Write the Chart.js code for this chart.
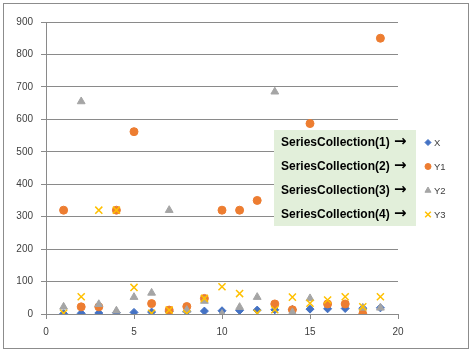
<!DOCTYPE html>
<html>
<head>
<meta charset="utf-8">
<script src="https://cdn.jsdelivr.net/npm/chart.js@4/dist/chart.umd.min.js"></script>
<style>
  html, body { margin: 0; padding: 0; background: #fff; }
  #wrap { position: relative; width: 473px; height: 353px; }
</style>
</head>
<body>
<div id="wrap"><canvas id="chart" width="473" height="353"></canvas></div>
<script>
// values
const xValues = [1, 2, 3, 4, 5, 6, 7, 8, 9, 10, 11, 12, 13, 14, 15, 16, 17, 18, 19];
const seriesX = [1, 2, 3, 4, 5, 6, 7, 8, 9, 10, 11, 12, 13, 14, 15, 16, 17, 18, 19];
const seriesY1 = [320, 22, 22, 320, 562, 32, 12, 23, 48, 320, 320, 350, 31, 13, 587, 31, 31, 0, 850];
const seriesY2 = [22, 655, 30, 10, 52, 65, 320, 12, 40, 0, 21, 52, 685, 5, 48, null, null, 19, 19];
const seriesY3 = [2, 53, 320, 320, 82, 2, 12, 1, 48, 84, 63, 2, 13, 52, 33, 43, 53, 22, 53];
const seriesNames = ['X', 'Y1', 'Y2', 'Y3'];
const boxLabels = ['SeriesCollection(1)', 'SeriesCollection(2)', 'SeriesCollection(3)', 'SeriesCollection(4)'];
const xTicks = [0, 5, 10, 15, 20];
const yTicks = [0, 100, 200, 300, 400, 500, 600, 700, 800, 900];

const colors = {
  blue: '#4472C4',
  orange: '#ED7D31',
  gray: '#A5A5A5',
  gold: '#FFC000',
  grid: '#8a8a8a',
  text: '#404040',
  boxFill: '#E2EFDA'
};

const toPoints = vals => xValues.map((x, i) => ({ x: x, y: vals[i] }));

const styles = [
  { color: colors.blue, style: 'rectRot', radius: 4, width: 1 },
  { color: colors.orange, style: 'circle', radius: 4, width: 1 },
  { color: colors.gray, style: 'triangle', radius: 4.5, width: 1 },
  { color: colors.gold, style: 'crossRot', radius: 5, width: 1.5 }
];
const allSeries = [seriesX, seriesY1, seriesY2, seriesY3];

// frame round the whole chart + text box legend
const decor = {
  id: 'decor',
  beforeDraw(chart) {
    const ctx = chart.ctx;
    ctx.save();
    ctx.fillStyle = '#fff';
    ctx.fillRect(0, 0, chart.width, chart.height);
    ctx.strokeStyle = '#8c8c8c';
    ctx.lineWidth = 1;
    ctx.strokeRect(3.5, 3.5, 465, 345);
    ctx.restore();
  },
  afterDraw(chart) {
    const ctx = chart.ctx;
    ctx.save();
    ctx.fillStyle = colors.boxFill;
    ctx.fillRect(274, 130, 142, 96);
    ctx.fillStyle = '#000';
    ctx.textBaseline = 'middle';
    let size = 14;
    ctx.font = 'bold ' + size + 'px "Liberation Sans"';
    while (ctx.measureText(boxLabels[0]).width > 109 && size > 8) {
      size -= 0.25;
      ctx.font = 'bold ' + size + 'px "Liberation Sans"';
    }
    boxLabels.forEach((t, i) => ctx.fillText(t, 281, 142.5 + i * 24));
    // heavy arrow after each label
    ctx.font = 'bold 15px "DejaVu Sans"';
    boxLabels.forEach((t, i) => ctx.fillText('\u2192', 394, 142.5 + i * 24));

    ctx.font = '9.5px "Liberation Sans"';
    seriesNames.forEach((name, i) => {
      const y = 142.5 + i * 24;
      const s = styles[i];
      ctx.fillStyle = s.color;
      ctx.strokeStyle = s.color;
      ctx.lineWidth = s.width;
      Chart.helpers.drawPoint(ctx, { pointStyle: s.style, radius: s.radius - 1, borderWidth: s.width }, 428, y);
      ctx.fillStyle = colors.text;
      ctx.fillText(name, 434, y + 0.5);
    });
    ctx.restore();
  }
};

new Chart(document.getElementById('chart'), {
  type: 'scatter',
  data: {
    datasets: allSeries.map((vals, i) => ({
      label: seriesNames[i],
      data: toPoints(vals),
      pointStyle: styles[i].style,
      pointRadius: styles[i].radius,
      pointBackgroundColor: styles[i].color,
      pointBorderColor: styles[i].color,
      pointBorderWidth: styles[i].width,
      order: 3 - i
    }))
  },
  options: {
    responsive: false,
    animation: false,
    layout: { padding: { left: 0, right: 75, top: 22, bottom: 0 } },
    plugins: {
      legend: { display: false },
      tooltip: { enabled: false }
    },
    scales: {
      x: {
        type: 'linear',
        min: 0,
        max: 20,
        afterBuildTicks: axis => { axis.ticks = xTicks.map(v => ({ value: v })); },
        afterFit: axis => { axis.height = 39; },
        grid: { drawOnChartArea: false, drawTicks: true, tickLength: 5, color: colors.grid },
        border: { color: colors.grid },
        ticks: { color: colors.text, padding: 7, maxRotation: 0, font: { family: 'Liberation Sans', size: 10 } }
      },
      y: {
        min: 0,
        max: 900,
        afterBuildTicks: axis => { axis.ticks = yTicks.map(v => ({ value: v })); },
        afterFit: axis => { axis.width = 46; },
        grid: { color: colors.grid, tickLength: 5 },
        border: { color: colors.grid },
        ticks: { color: colors.text, padding: 8, font: { family: 'Liberation Sans', size: 10 } }
      }
    }
  },
  plugins: [decor]
});
</script>
</body>
</html>
